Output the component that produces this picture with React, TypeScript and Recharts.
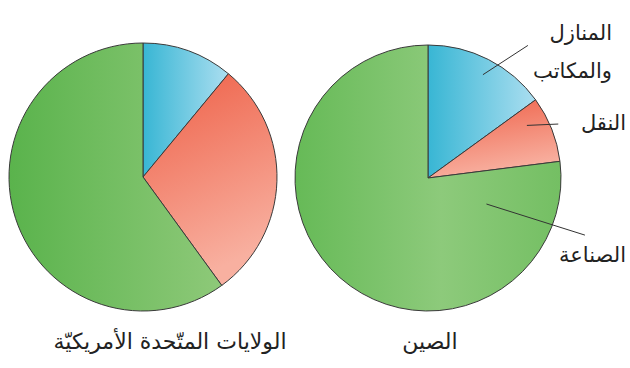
import { PieChart, Pie, Cell } from "recharts"

// sectors, clockwise from 12 o'clock
const sectors = ["المنازل والمكاتب", "النقل", "الصناعة"]
const usaShares = [11, 29, 60]
const chinaShares = [15, 8, 77]
const countryNames = ["الولايات المتّحدة الأمريكيّة", "الصين"]
const chinaLabelLines = [["المنازل", "والمكاتب"], ["النقل"], ["الصناعة"]]

const usaData = sectors.map((name, i) => ({ name, value: usaShares[i] }))
const chinaData = sectors.map((name, i) => ({ name, value: chinaShares[i] }))

const RAD = Math.PI / 180
const font = "'DejaVu Sans', sans-serif"

// leader line (polar, from pie centre) and text anchor offset, per sector
const labelLayout = [
  { r1: 117, a1: 62, r2: 166, a2: 53, tx: 184, ty: [-138, -100] },
  { r1: 112, a1: 28, r2: 141, a2: 22.5, tx: 198, ty: [-48] },
  { r1: 64, a1: -24, r2: 167, a2: -20, tx: 198, ty: [84] },
]

const renderChinaLabel = (props: any) => {
  const { cx, cy, index } = props
  const l = labelLayout[index]
  const x1 = cx + l.r1 * Math.cos(l.a1 * RAD)
  const y1 = cy - l.r1 * Math.sin(l.a1 * RAD)
  const x2 = cx + l.r2 * Math.cos(l.a2 * RAD)
  const y2 = cy - l.r2 * Math.sin(l.a2 * RAD)
  return (
    <g key={`lbl-${index}`}>
      <line x1={x1} y1={y1} x2={x2} y2={y2} stroke="#333" strokeWidth={1} />
      {chinaLabelLines[index].map((t, j) => (
        <text
          key={j}
          x={cx + l.tx}
          y={cy + l.ty[j]}
          textAnchor="end"
          fontFamily={font}
          fontSize={21}
          fill="#222"
        >
          {t}
        </text>
      ))}
    </g>
  )
}

const usaFills = ["url(#gBlue)", "url(#gRed)", "url(#gGreen)"]
const chinaFills = ["url(#gBlue)", "url(#gRed)", "url(#gGreenC)"]

export default function App() {
  return (
    <div style={{ position: "relative", width: 630, height: 368, background: "#fff" }}>
      <style>{"body{margin:0}"}</style>
      <PieChart width={630} height={368} margin={{ top: 0, right: 0, bottom: 0, left: 0 }}>
        <defs>
          <linearGradient id="gBlue" x1="0" y1="0" x2="1" y2="0">
            <stop offset="0%" stopColor="#38b6d4" />
            <stop offset="100%" stopColor="#abdef0" />
          </linearGradient>
          <linearGradient id="gRed" x1="0" y1="0" x2="0.3" y2="1">
            <stop offset="0%" stopColor="#ee5f46" />
            <stop offset="100%" stopColor="#f8b0a0" />
          </linearGradient>
          <linearGradient id="gGreen" x1="0" y1="0" x2="1" y2="0">
            <stop offset="0%" stopColor="#5ab34c" />
            <stop offset="100%" stopColor="#8ec979" />
          </linearGradient>
          <linearGradient id="gGreenC" x1="0" y1="0" x2="1" y2="0">
            <stop offset="0%" stopColor="#66ba57" />
            <stop offset="55%" stopColor="#8dca7b" />
            <stop offset="100%" stopColor="#74bf63" />
          </linearGradient>
        </defs>
        <Pie
          data={usaData}
          dataKey="value"
          nameKey="name"
          cx={143}
          cy={177}
          outerRadius={134}
          startAngle={90}
          endAngle={-270}
          stroke="#3a3a3a"
          strokeWidth={1}
          isAnimationActive={false}
          labelLine={false}
        >
          {usaData.map((d, i) => (
            <Cell key={d.name} fill={usaFills[i]} />
          ))}
        </Pie>
        <Pie
          data={chinaData}
          dataKey="value"
          nameKey="name"
          cx={428}
          cy={178}
          outerRadius={133}
          startAngle={90}
          endAngle={-270}
          stroke="#3a3a3a"
          strokeWidth={1}
          isAnimationActive={false}
          labelLine={false}
          label={renderChinaLabel}
        >
          {chinaData.map((d, i) => (
            <Cell key={d.name} fill={chinaFills[i]} />
          ))}
        </Pie>
      </PieChart>
      {countryNames.map((n, i) => (
        <div
          key={n}
          dir="rtl"
          style={{
            position: "absolute",
            left: i === 0 ? 40 : 360,
            width: i === 0 ? 260 : 140,
            top: 329,
            textAlign: "center",
            fontFamily: font,
            fontSize: 22,
            color: "#222",
            whiteSpace: "nowrap",
          }}
        >
          {n}
        </div>
      ))}
    </div>
  )
}
